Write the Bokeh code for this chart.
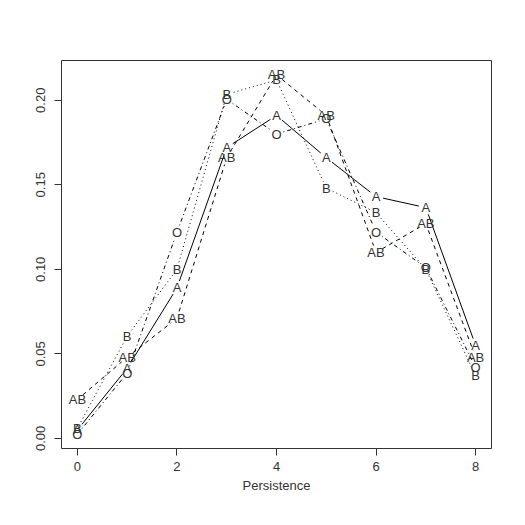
import numpy as np
from bokeh.plotting import figure
from bokeh.models import Range1d, FixedTicker, ColumnDataSource
from bokeh.embed import file_html
from bokeh.resources import INLINE
from bokeh.core.properties import value

persistence = [0, 1, 2, 3, 4, 5, 6, 7, 8]
series_names = ["A", "AB", "B", "O"]
A  = [0.005, 0.0415, 0.089, 0.172, 0.191, 0.166, 0.143, 0.1365, 0.055]
AB = [0.023, 0.048, 0.071, 0.166, 0.215, 0.191, 0.110, 0.127, 0.048]
B  = [0.006, 0.0605, 0.100, 0.2035, 0.212, 0.148, 0.1335, 0.100, 0.037]
O  = [0.0025, 0.0386, 0.122, 0.2006, 0.180, 0.189, 0.122, 0.101, 0.042]
x_ticks = [0, 2, 4, 6, 8]
y_ticks = [0.00, 0.05, 0.10, 0.15, 0.20]
y_tick_labels = {0.0: "0.00", 0.05: "0.05", 0.1: "0.10", 0.15: "0.15", 0.2: "0.20"}

data = {"A": A, "AB": AB, "B": B, "O": O}
dashes = {"A": "solid", "AB": "4 4", "B": "1 3", "O": "1 3 4 3"}

FONT = "Liberation Sans"
FS = "13px"
TXT = "#333333"
W, H = 517, 517
BL, BR, BT, BB = 61, 26, 60, 69
FW, FH = W - BL - BR, H - BT - BB

allv = np.array(A + AB + B + O)
ylo, yhi = allv.min(), allv.max()
ypad = 0.04 * (yhi - ylo)
y0, y1 = ylo - ypad, yhi + ypad
xlo, xhi = min(persistence), max(persistence)
xpad = 0.04 * (xhi - xlo)
x0, x1 = xlo - xpad, xhi + xpad

p = figure(width=W, height=H, output_backend="svg", toolbar_location=None,
           x_range=Range1d(x0, x1), y_range=Range1d(y0, y1),
           min_border_left=BL, min_border_right=BR, min_border_top=BT, min_border_bottom=BB)
p.xgrid.visible = False
p.ygrid.visible = False
p.outline_line_color = "#333333"
p.outline_line_width = 1
p.background_fill_color = "white"
p.border_fill_color = "white"

# pixel scales for the type="b" line gaps
sx = FW / (x1 - x0)
sy = FH / (y1 - y0)
gap = 7.2

for name in series_names:
    ys = data[name]
    xs_ = persistence
    sx0, sy0, sx1, sy1 = [], [], [], []
    for i in range(1, len(xs_)):
        dxp = (xs_[i] - xs_[i-1]) * sx
        dyp = (ys[i] - ys[i-1]) * sy
        L = np.hypot(dxp, dyp)
        f = gap / L
        if f < 0.5:
            sx0.append(xs_[i-1] + f * (xs_[i] - xs_[i-1]))
            sy0.append(ys[i-1] + f * (ys[i] - ys[i-1]))
            sx1.append(xs_[i] - f * (xs_[i] - xs_[i-1]))
            sy1.append(ys[i] - f * (ys[i] - ys[i-1]))
    p.segment(x0=sx0, y0=sy0, x1=sx1, y1=sy1, line_color="black",
              line_width=1, line_dash=dashes[name])

for name in series_names:
    src = ColumnDataSource(dict(x=persistence, y=data[name], t=[name] * len(persistence)))
    p.text(x="x", y="y", text="t", source=src, text_font=value(FONT),
           text_font_size=FS, text_align="center", text_baseline="middle",
           text_color=TXT)

for ax in (p.xaxis[0], p.yaxis[0]):
    ax.axis_line_color = None
    ax.major_tick_line_color = "#333333"
    ax.major_tick_in = 0
    ax.major_tick_out = 7
    ax.minor_tick_line_color = None
    ax.major_label_text_font = FONT
    ax.major_label_text_font_size = FS
    ax.major_label_text_color = TXT

p.xaxis.ticker = FixedTicker(ticks=x_ticks)
p.yaxis.ticker = FixedTicker(ticks=y_ticks)
p.yaxis.major_label_overrides = y_tick_labels
p.yaxis.major_label_orientation = "vertical"
p.xaxis.major_label_standoff = 6
p.yaxis.major_label_standoff = 9
p.xaxis.axis_label = "Persistence"
p.xaxis.axis_label_text_font = FONT
p.xaxis.axis_label_text_font_size = FS
p.xaxis.axis_label_text_font_style = "normal"
p.xaxis.axis_label_text_color = TXT
p.xaxis.axis_label_standoff = 4

open("out.html", "w").write(file_html(p, INLINE))
